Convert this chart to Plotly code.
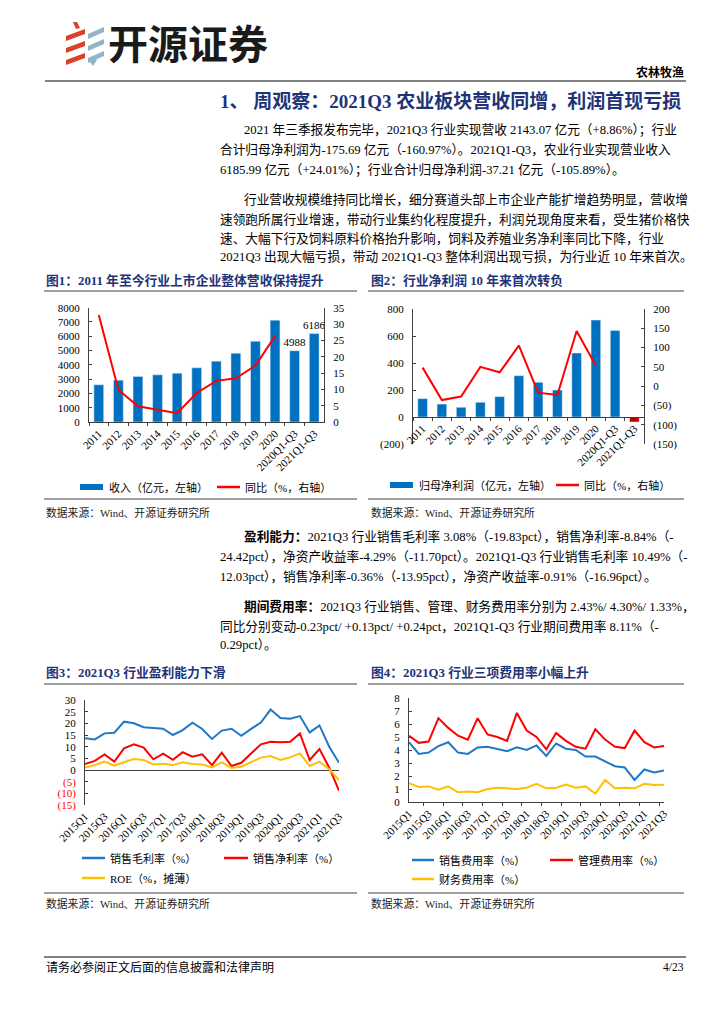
import plotly.graph_objects as go

W, H = 724, 1024
OFF = 8  # page body margin of the rendered html
def X(px): return (px - OFF) / W
def Y(py): return 1 - (py - OFF) / H

SERIF = "'Liberation Serif', 'Noto Sans CJK SC', serif"
SANS = "'Noto Sans CJK SC', sans-serif"
NAVY = "#1f3378"
AXIS = "#404040"

# ---------------- data ----------------
years = ["2011", "2012", "2013", "2014", "2015", "2016", "2017", "2018", "2019", "2020",
         "2020Q1-Q3", "2021Q1-Q3"]
revenue = [2600, 2930, 3190, 3300, 3420, 3790, 4260, 4810, 5650, 7130, 4988, 6186]
revenue_yoy = [32.8, 9.9, 4.8, 3.8, 2.7, 8.9, 12.6, 13.4, 17.3, 26.3, None, None]
labelled_years = ["2020Q1-Q3", "2021Q1-Q3"]

profit = [136, 96, 72, 109, 151, 306, 257, 200, 474, 718, 640, -37.21]
profit_yoy = [48, -36, -27, 50, 36, 105, -17, -23, 143, 53, None, None]

quarters = ["2015Q1", "2015Q2", "2015Q3", "2015Q4", "2016Q1", "2016Q2", "2016Q3", "2016Q4",
            "2017Q1", "2017Q2", "2017Q3", "2017Q4", "2018Q1", "2018Q2", "2018Q3", "2018Q4",
            "2019Q1", "2019Q2", "2019Q3", "2019Q4", "2020Q1", "2020Q2", "2020Q3", "2020Q4",
            "2021Q1", "2021Q2", "2021Q3"]
gross_margin = [13.6, 13.1, 15.7, 16.0, 20.7, 20.0, 18.3, 17.9, 17.7, 15.0, 17.1, 20.3, 17.6, 13.3,
                16.9, 17.7, 14.7, 17.6, 20.3, 25.9, 22.3, 22.0, 23.1, 16.1, 19.1, 10.0, 3.08]
net_margin = [2.6, 3.9, 6.7, 3.6, 9.3, 11.0, 9.6, 4.6, 7.0, 4.4, 7.6, 5.7, 6.7, 2.1,
              7.4, 1.7, 3.1, 7.1, 11.0, 12.1, 11.9, 12.1, 15.7, 4.3, 9.0, 1.0, -8.84]
roe = [1.1, 2.1, 3.6, 1.9, 3.3, 4.7, 4.3, 2.4, 2.7, 2.1, 3.3, 2.6, 2.4, 1.1,
       3.3, 0.9, 1.4, 3.3, 5.3, 6.0, 4.3, 5.4, 7.1, 1.7, 3.6, 0.3, -4.29]

sales_exp = [4.6, 3.7, 3.8, 4.3, 4.6, 3.8, 3.7, 4.2, 4.25, 4.1, 3.9, 4.2, 4.0, 4.35,
             3.55, 4.5, 4.1, 4.0, 3.5, 3.5, 3.15, 2.75, 2.65, 1.7, 2.5, 2.27, 2.43]
admin_exp = [5.1, 4.55, 4.65, 6.45, 5.7, 5.1, 4.8, 6.45, 5.2, 5.0, 4.7, 6.85, 5.5, 5.0,
             4.05, 5.3, 4.7, 4.25, 4.1, 5.6, 4.8, 4.25, 4.15, 5.5, 4.6, 4.2, 4.30]
fin_exp = [1.45, 1.15, 1.2, 0.95, 1.2, 0.75, 0.8, 0.75, 1.0, 1.1, 1.05, 1.0, 1.1, 1.4,
           1.05, 1.1, 1.35, 1.1, 1.2, 0.65, 1.7, 1.05, 1.1, 1.05, 1.4, 1.3, 1.33]

# ---------------- figure ----------------
fig = go.Figure()

# chart 1
fig.add_trace(go.Bar(x=years, y=revenue, xaxis="x", yaxis="y", marker_color="#0070c0", width=0.5,
                     text=[f"{v:.0f}" if c in labelled_years else "" for c, v in zip(years, revenue)],
                     textposition="outside", cliponaxis=False, constraintext="none",
                     textfont=dict(family=SERIF, size=11, color="#000")))
fig.add_trace(go.Scatter(x=years, y=revenue_yoy, xaxis="x", yaxis="y2", mode="lines",
                         line=dict(color="#ff0000", width=2)))

# chart 2
fig.add_trace(go.Bar(x=years, y=profit, xaxis="x2", yaxis="y3", width=0.5,
                     marker_color=["#0070c0" if v >= 0 else "#c00000" for v in profit]))
fig.add_trace(go.Scatter(x=years, y=profit_yoy, xaxis="x2", yaxis="y4", mode="lines",
                         line=dict(color="#ff0000", width=2)))

# chart 3
for ser, col in [(gross_margin, "#1f78c8"), (net_margin, "#ff0000"), (roe, "#ffc000")]:
    fig.add_trace(go.Scatter(x=quarters, y=ser, xaxis="x3", yaxis="y5", mode="lines",
                             line=dict(color=col, width=2)))
# chart 4
for ser, col in [(sales_exp, "#1f78c8"), (admin_exp, "#ff0000"), (fin_exp, "#ffc000")]:
    fig.add_trace(go.Scatter(x=quarters, y=ser, xaxis="x4", yaxis="y6", mode="lines",
                             line=dict(color=col, width=2)))

tickfont = dict(family=SERIF, size=11, color="#000")

def yax(**kw):
    d = dict(showgrid=False, zeroline=False, showline=True, linecolor=AXIS, linewidth=1,
             ticks="inside", ticklen=3, tickcolor=AXIS, tickfont=tickfont, ticklabelstandoff=6,
             automargin=False)
    d.update(kw)
    return d

def xax(**kw):
    d = dict(type="category", showgrid=False, zeroline=False, showline=True, linecolor=AXIS,
             linewidth=1, ticks="outside", ticklen=3, tickcolor=AXIS, tickson="boundaries",
             tickangle=-45, tickfont=tickfont, automargin=False)
    d.update(kw)
    return d

def neg(v):
    return f"({abs(v)})" if v < 0 else f"{v}"

# chart 2 axis geometry
y3_lo, y3_hi = Y(444), Y(309)
p_rng = [-200, 800]
zero_pos = y3_lo + (0 - p_rng[0]) / (p_rng[1] - p_rng[0]) * (y3_hi - y3_lo)

p_ticks = [-200, 0, 200, 400, 600, 800]
r_ticks = [-150, -100, -50, 0, 50, 100, 150, 200]
m_ticks = [-15, -10, -5, 0, 5, 10, 15, 20, 25, 30]

fig.update_layout(
    width=W, height=H, margin=dict(l=0, r=0, t=0, b=0, pad=0), autosize=False,
    paper_bgcolor="white", plot_bgcolor="white", showlegend=False,
    xaxis=xax(domain=[X(89), X(324)], anchor="y"),
    yaxis=yax(domain=[Y(422), Y(307.7)], range=[0, 8000], dtick=1000, anchor="x"),
    yaxis2=yax(domain=[Y(422), Y(307.7)], range=[0, 35], dtick=5, overlaying="y", side="right", anchor="x"),
    xaxis2=xax(domain=[X(413), X(644)], anchor="free", position=zero_pos),
    yaxis3=yax(domain=[y3_lo, y3_hi], range=p_rng, tickvals=p_ticks, ticktext=[neg(v) for v in p_ticks], anchor="x2"),
    yaxis4=yax(domain=[y3_lo, y3_hi], range=[-150, 200], tickvals=r_ticks, ticktext=[neg(v) for v in r_ticks],
               overlaying="y3", side="right", anchor="x2"),
    xaxis3=xax(domain=[X(85), X(339)], anchor="y5", showline=False, ticks="",
               tickvals=quarters[::2], ticklabelstandoff=2),
    yaxis5=yax(domain=[Y(805), Y(700)], range=[-15, 30], tickvals=m_ticks,
               ticktext=[f"<span style='color:#ff0000'>({abs(v)})</span>" if v < 0 else str(v) for v in m_ticks],
               zeroline=True, zerolinecolor=AXIS, zerolinewidth=1, anchor="x3"),
    xaxis4=xax(domain=[X(409), X(664)], anchor="y6", tickvals=quarters[::2]),
    yaxis6=yax(domain=[Y(802), Y(698)], range=[0, 8], dtick=1, anchor="x4"),
)

shapes = []
ann = []

def hline(x0, x1, y, color="#808080", width=1.5):
    shapes.append(dict(type="line", xref="paper", yref="paper", x0=X(x0), x1=X(x1), y0=Y(y), y1=Y(y),
                       line=dict(color=color, width=width)))

def txt(s, x, y, size=13, anchor="left", color="#000", family=SERIF):
    ann.append(dict(text=s, x=X(x), y=Y(y), xref="paper", yref="paper", xanchor=anchor, yanchor="middle",
                    showarrow=False, font=dict(size=size, color=color, family=family)))

def poly(pts, color):
    path = "M " + " L ".join(f"{X(a):.5f},{Y(b):.5f}" for a, b in pts) + " Z"
    shapes.append(dict(type="path", xref="paper", yref="paper", path=path, fillcolor=color,
                       line=dict(width=0)))

# header logo
for yc in (32, 44, 56):
    poly([(66, yc + 4), (85, yc - 3), (85, yc + 2), (66, yc + 9)], "#d9412b")
poly([(73, 22), (77, 22), (80, 28), (76, 29)], "#d9412b")
for yc in (30, 42, 54):
    poly([(88, yc + 4), (104, yc - 3), (104, yc + 2), (88, yc + 9)], "#93b4c8")
poly([(90, 62), (94, 58), (97, 60), (93, 66)], "#93b4c8")
txt("<b>开源证券</b>", 106, 42, size=40, color="#1a1a1a", family=SANS)
txt("<b>农林牧渔</b>", 686, 72, size=12, anchor="right")
hline(45, 686, 81, color="#595959", width=1.5)

# section title and paragraphs
txt("<b>1、 周观察：2021Q3 农业板块营收同增，利润首现亏损</b>", 218, 101, size=19, color=NAVY)
body = [
    (242, 130, "2021 年三季报发布完毕，2021Q3 行业实现营收 2143.07 亿元（+8.86%）；行业"),
    (218, 150, "合计归母净利润为-175.69 亿元（-160.97%）。2021Q1-Q3，农业行业实现营业收入"),
    (218, 170, "6185.99 亿元（+24.01%）；行业合计归母净利润-37.21 亿元（-105.89%）。"),
    (242, 199, "行业营收规模维持同比增长，细分赛道头部上市企业产能扩增趋势明显，营收增"),
    (218, 219, "速领跑所属行业增速，带动行业集约化程度提升，利润兑现角度来看，受生猪价格快"),
    (218, 238, "速、大幅下行及饲料原料价格抬升影响，饲料及养殖业务净利率同比下降，行业"),
    (218, 257, "2021Q3 出现大幅亏损，带动 2021Q1-Q3 整体利润出现亏损，为行业近 10 年来首次。"),
    (242, 536, "<b>盈利能力：</b>2021Q3 行业销售毛利率 3.08%（-19.83pct），销售净利率-8.84%（-"),
    (218, 556, "24.42pct），净资产收益率-4.29%（-11.70pct）。2021Q1-Q3 行业销售毛利率 10.49%（-"),
    (218, 576, "12.03pct），销售净利率-0.36%（-13.95pct），净资产收益率-0.91%（-16.96pct）。"),
    (242, 606, "<b>期间费用率：</b>2021Q3 行业销售、管理、财务费用率分别为 2.43%/ 4.30%/ 1.33%，"),
    (218, 626, "同比分别变动-0.23pct/ +0.13pct/ +0.24pct，2021Q1-Q3 行业期间费用率 8.11%（-"),
    (218, 645, "0.29pct）。"),
]
for x, y, s in body:
    txt(s, x, y, size=12.7)

# chart titles and frame lines
txt("<b>图1：2011 年至今行业上市企业整体营收保持提升</b>", 44, 280, size=12.8, color=NAVY)
txt("<b>图2：行业净利润 10 年来首次转负</b>", 369, 280, size=12.8, color=NAVY)
txt("<b>图3：2021Q3 行业盈利能力下滑</b>", 44, 672, size=12.8, color=NAVY)
txt("<b>图4：2021Q3 行业三项费用率小幅上升</b>", 369, 672, size=12.8, color=NAVY)
for y in (291, 499, 684, 893):
    hline(44, 357, y)
    hline(368, 684, y)
for y in (512, 903):
    txt("数据来源：Wind、开源证券研究所", 44, y, size=10.8, color="#222")
    txt("数据来源：Wind、开源证券研究所", 369, y, size=10.8, color="#222")

# legends
def leg_rect(x0, x1, y, color):
    shapes.append(dict(type="rect", xref="paper", yref="paper", x0=X(x0), x1=X(x1), y0=Y(y + 3), y1=Y(y - 3),
                       fillcolor=color, line=dict(width=0)))

def leg_line(x0, x1, y, color):
    shapes.append(dict(type="line", xref="paper", yref="paper", x0=X(x0), x1=X(x1), y0=Y(y), y1=Y(y),
                       line=dict(color=color, width=2.5)))

leg_rect(80, 103, 487, "#0070c0"); txt("收入（亿元，左轴）", 107, 487, size=11)
leg_line(217, 240, 487, "#ff0000"); txt("同比（%，右轴）", 243, 487, size=11)
leg_rect(390, 413, 485, "#0070c0"); txt("归母净利润（亿元，左轴）", 417, 485, size=11)
leg_line(556, 579, 485, "#ff0000"); txt("同比（%，右轴）", 582, 485, size=11)

leg_line(82, 105, 858, "#1f78c8"); txt("销售毛利率（%）", 108, 858, size=11)
leg_line(224, 248, 858, "#ff0000"); txt("销售净利率（%）", 251, 858, size=11)
leg_line(82, 105, 878, "#ffc000"); txt("ROE（%，摊薄）", 108, 878, size=11)
leg_line(412, 434, 860, "#1f78c8"); txt("销售费用率（%）", 437, 860, size=11)
leg_line(550, 573, 860, "#ff0000"); txt("管理费用率（%）", 576, 860, size=11)
leg_line(412, 434, 879, "#ffc000"); txt("财务费用率（%）", 437, 879, size=11)

# footer
hline(44, 686, 957, color="#808080", width=2)
txt("请务必参阅正文后面的信息披露和法律声明", 44, 967, size=12)
txt("4/23", 686, 967, size=11.5, anchor="right")

fig.update_layout(shapes=shapes, annotations=ann)
fig.write_html("out.html", config={"displayModeBar": False})
